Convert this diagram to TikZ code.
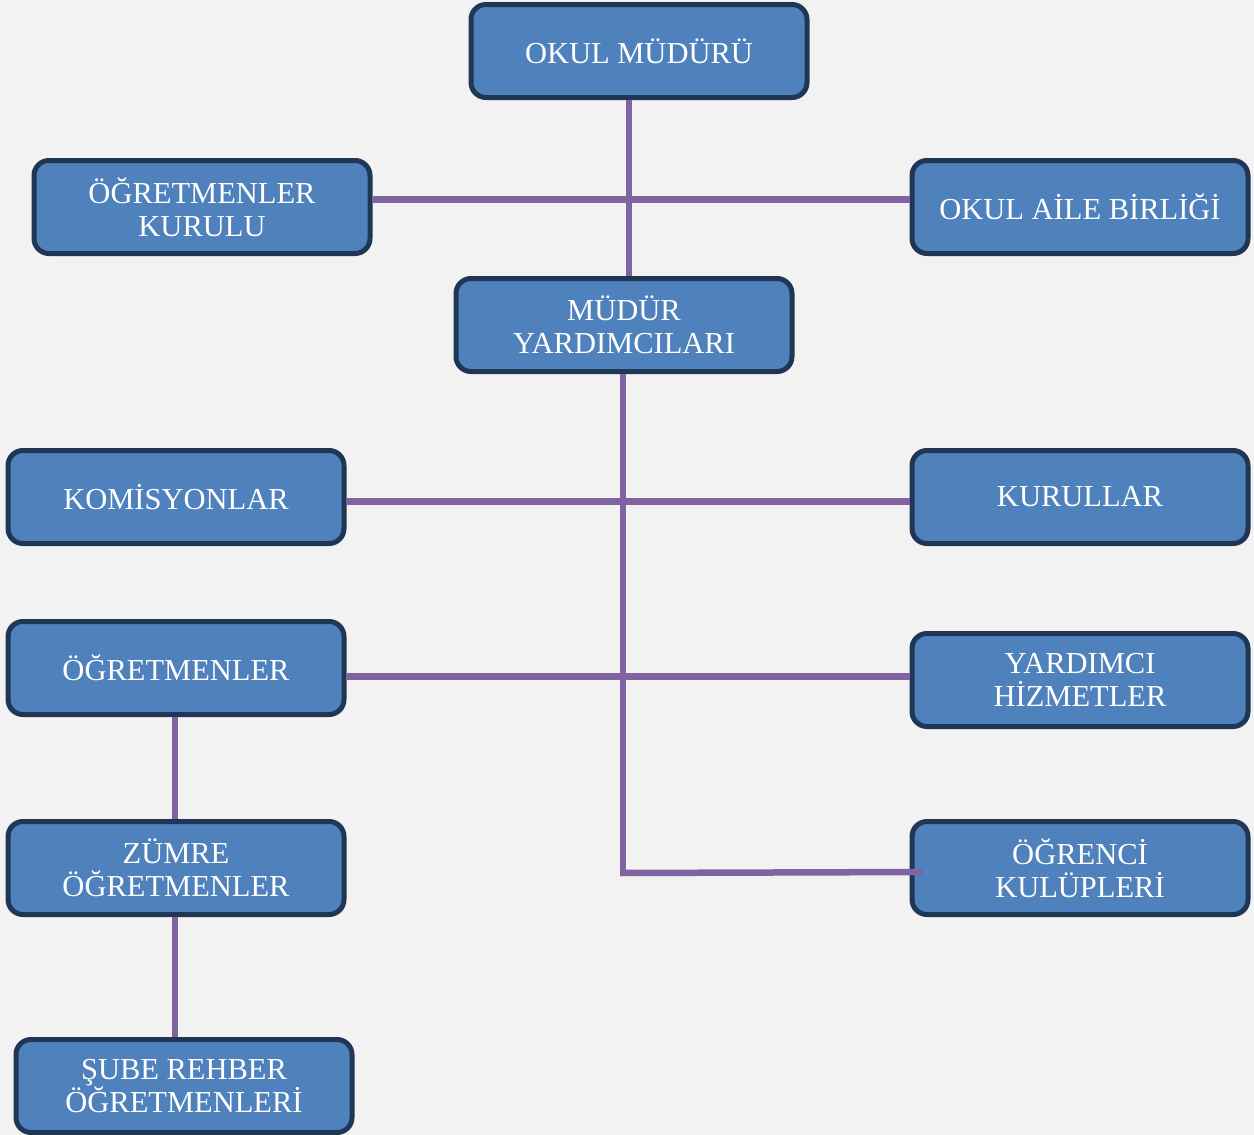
\documentclass[tikz,border=0pt]{standalone}
\usepackage{fontspec}
\setmainfont{Liberation Serif}
\usetikzlibrary{shadows}
\definecolor{bg}{HTML}{F2F2F2}
\definecolor{boxfill}{HTML}{4F81BD}
\definecolor{boxline}{HTML}{1F3654}
\definecolor{conn}{HTML}{8064A2}
\begin{document}
\begin{tikzpicture}[x=1pt,y=-1pt,
  orgbox/.style={draw=boxline, fill=boxfill, line width=5pt, rounded corners=15pt,
    minimum width=336pt, minimum height=93pt, align=center, text=white,
    font=\fontsize{30.5}{33}\selectfont, inner sep=2pt,
    drop shadow={shadow xshift=1.5pt, shadow yshift=-2pt, opacity=0.18}},
  link/.style={draw=conn, line width=6.5pt}]
\fill[bg] (0,0) rectangle (1254,1135);
\useasboundingbox (0,0) rectangle (1254,1135);

\node[orgbox] (mudur) at (639,51) {OKUL MÜDÜRÜ};
\node[orgbox] (ogk) at (202,207) {ÖĞRETMENLER\\KURULU};
\node[orgbox] (oab) at (1080,207) {OKUL AİLE BİRLİĞİ};
\node[orgbox] (mya) at (624,325) {MÜDÜR\\YARDIMCILARI};
\node[orgbox] (kom) at (176,497) {KOMİSYONLAR};
\node[orgbox] (kur) at (1080,497) {KURULLAR};
\node[orgbox] (ogr) at (176,668) {ÖĞRETMENLER};
\node[orgbox] (yh) at (1080,680) {YARDIMCI\\HİZMETLER};
\node[orgbox] (zum) at (176,868) {ZÜMRE\\ÖĞRETMENLER};
\node[orgbox] (ok) at (1080,868) {ÖĞRENCİ\\KULÜPLERİ};
\node[orgbox] (sube) at (184,1086) {ŞUBE REHBER\\ÖĞRETMENLERİ};

\coordinate (corner) at (623,873);

\draw[link] ([xshift=-10pt]mudur.south) -- ([xshift=-10pt]mudur.south |- mya.north);
\draw[link] ([yshift=7.5pt]ogk.east) -- ([yshift=7.5pt]ogk.east -| oab.west);
\draw[link] ([xshift=-1pt]mya.south) -- (corner);
\draw[link] ([yshift=-4.5pt]kom.east) -- ([yshift=-4.5pt]kom.east -| kur.west);
\draw[link] ([yshift=-8.5pt]ogr.east) -- ([yshift=-8.5pt]ogr.east -| yh.west);
\draw[link] ([xshift=-3pt]corner) -- ([xshift=13pt,yshift=-4pt]ok.west);
\draw[link] ([xshift=-1pt]ogr.south) -- ([xshift=-1pt]zum.north);
\draw[link] ([xshift=-1pt]zum.south) -- ([xshift=-1pt]zum.south |- sube.north);
\end{tikzpicture}
\end{document}
